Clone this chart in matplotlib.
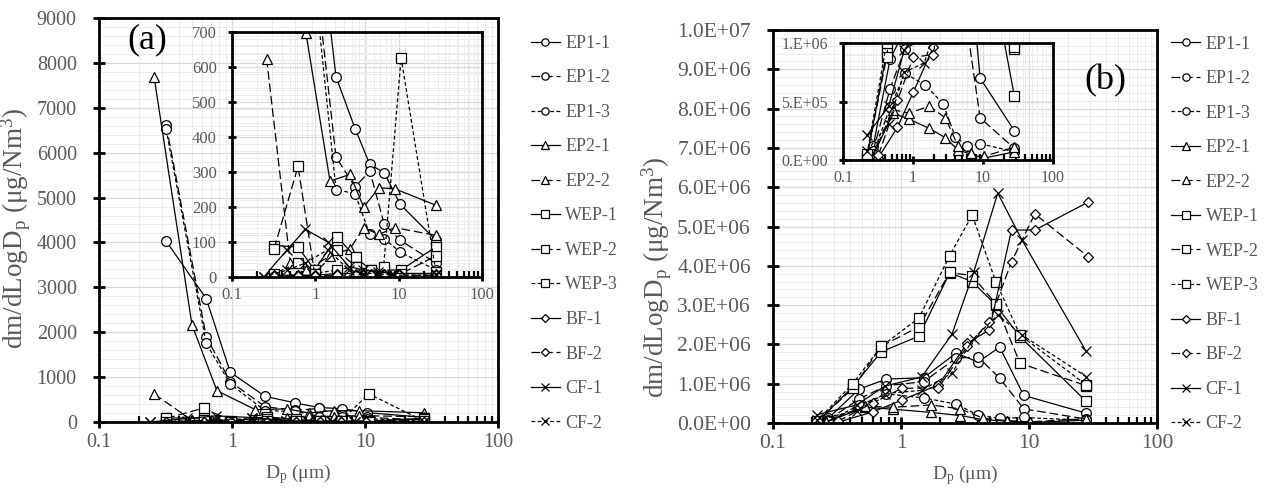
import numpy as np
import matplotlib
matplotlib.use("Agg")
import matplotlib.pyplot as plt
from matplotlib.ticker import LogLocator, FixedLocator, MultipleLocator, FuncFormatter, NullFormatter

plt.rcParams["font.family"] = ["Liberation Serif", "DejaVu Serif"]
plt.rcParams["mathtext.fontset"] = "custom"
plt.rcParams["mathtext.rm"] = "Liberation Serif"
plt.rcParams["mathtext.it"] = "Liberation Serif:italic"

GRAY = "#595959"
labels = ["EP1-1", "EP1-2", "EP1-3", "EP2-1", "EP2-2", "WEP-1", "WEP-2", "WEP-3",
          "BF-1", "BF-2", "CF-1", "CF-2"]

# ---- panel (a): particle diameters (um) per group
xa_ep1 = [0.32, 0.64, 0.97, 1.77, 3.0, 4.5, 6.7, 10.4, 28]
xa_ep2 = [0.26, 0.50, 0.77, 1.5, 2.6, 3.8, 5.8, 9.0, 28]
xa_wep = [0.32, 0.62, 0.98, 1.82, 3.05, 4.6, 6.6, 10.7, 28]
xa_bf = [0.32, 0.62, 0.98, 1.82, 3.05, 4.6, 6.6, 10.2, 28]
xa_cf = [0.24, 0.46, 0.76, 1.41, 2.53, 3.76, 5.6, 8.4, 28]

# panel (a) values, ug/Nm3
a_ep1_1 = [4027, 2750, 1110, 572, 424, 322, 298, 208, 105]
a_ep1_2 = [6610, 1900, 900, 343, 257, 303, 152, 105, 40]
a_ep1_3 = [6520, 1750, 850, 250, 238, 122, 110, 71, 20]
a_ep2_1 = [7675, 2166, 698, 274, 293, 200, 255, 252, 205]
a_ep2_2 = [624, 40, 20, 60, 80, 140, 122, 141, 119]
a_wep_1 = [90, 86, 20, 114, 57, 20, 20, 20, 86]
a_wep_2 = [80, 316, 10, 76, 30, 10, 10, 10, 60]
a_wep_3 = [10, 40, 10, 20, 30, 20, 30, 626, 15]
a_bf_1 = [5, 5, 5, 10, 10, 10, 10, 10, 10]
a_bf_2 = [3, 3, 3, 5, 5, 5, 5, 5, 5]
a_cf_1 = [0, 78, 136, 100, 30, 20, 15, 10, 10]
a_cf_2 = [0, 20, 40, 78, 20, 10, 10, 5, 5]

# ---- panel (b)
xb_ep1 = [0.27, 0.47, 0.77, 1.5, 2.7, 4.0, 5.9, 9.1, 28]
xb_ep2 = [0.26, 0.52, 0.87, 1.71, 2.9, 4.4, 6.7, 10.2, 28]
xb_wep = [0.22, 0.42, 0.70, 1.38, 2.4, 3.6, 5.5, 8.5, 28]
xb_bf = [0.32, 0.60, 1.01, 1.96, 3.3, 4.9, 7.3, 11.1, 29]
xb_cf = [0.22, 0.45, 0.75, 1.45, 2.5, 3.7, 5.7, 8.8, 28]

b_ep1_1 = [0.12e6, 0.86e6, 1.12e6, 1.15e6, 1.78e6, 1.55e6, 1.93e6, 0.70e6, 0.25e6]
b_ep1_2 = [0.08e6, 0.61e6, 0.95e6, 1.05e6, 1.65e6, 1.68e6, 1.14e6, 0.36e6, 0.10e6]
b_ep1_3 = [0.05e6, 0.45e6, 0.74e6, 0.64e6, 0.48e6, 0.20e6, 0.12e6, 0.14e6, 0.07e6]
b_ep2_1 = [0.02e6, 0.40e6, 0.35e6, 0.27e6, 0.19e6, 0.085e6, 0.05e6, 0.015e6, 0.07e6]
b_ep2_2 = [0.03e6, 0.43e6, 0.40e6, 0.46e6, 0.36e6, 0.12e6, 0.06e6, 0.03e6, 0.11e6]
b_wep_1 = [0.02e6, 0.92e6, 1.81e6, 2.21e6, 3.82e6, 3.60e6, 3.00e6, 2.20e6, 0.55e6]
b_wep_2 = [0.03e6, 0.88e6, 1.95e6, 2.45e6, 3.83e6, 3.75e6, 3.03e6, 1.52e6, 0.95e6]
b_wep_3 = [0.05e6, 1.00e6, 1.95e6, 2.67e6, 4.26e6, 5.29e6, 3.60e6, 2.24e6, 0.97e6]
b_bf_1 = [0.02e6, 0.28e6, 0.58e6, 0.97e6, 2.03e6, 2.37e6, 4.91e6, 4.91e6, 5.62e6]
b_bf_2 = [0.04e6, 0.51e6, 0.88e6, 0.90e6, 1.95e6, 2.58e6, 4.10e6, 5.32e6, 4.23e6]
b_cf_1 = [0.21e6, 0.46e6, 0.94e6, 1.17e6, 2.26e6, 3.84e6, 5.85e6, 4.66e6, 1.82e6]
b_cf_2 = [0.08e6, 0.31e6, 0.75e6, 0.83e6, 1.27e6, 2.15e6, 2.75e6, 2.24e6, 1.18e6]

markers = ["o", "o", "o", "^", "^", "s", "s", "s", "D", "D", "x", "x"]
styles = ["-", (0, (7, 3)), (0, (3, 2)), "-", (0, (7, 3)), "-", (0, (7, 3)), (0, (3, 2)),
          "-", (0, (7, 3)), "-", (0, (3, 2))]

series_a = [(xa_ep1, a_ep1_1), (xa_ep1, a_ep1_2), (xa_ep1, a_ep1_3),
            (xa_ep2, a_ep2_1), (xa_ep2, a_ep2_2),
            (xa_wep, a_wep_1), (xa_wep, a_wep_2), (xa_wep, a_wep_3),
            (xa_bf, a_bf_1), (xa_bf, a_bf_2), (xa_cf, a_cf_1), (xa_cf, a_cf_2)]
series_b = [(xb_ep1, b_ep1_1), (xb_ep1, b_ep1_2), (xb_ep1, b_ep1_3),
            (xb_ep2, b_ep2_1), (xb_ep2, b_ep2_2),
            (xb_wep, b_wep_1), (xb_wep, b_wep_2), (xb_wep, b_wep_3),
            (xb_bf, b_bf_1), (xb_bf, b_bf_2), (xb_cf, b_cf_1), (xb_cf, b_cf_2)]

YLABEL = r"dm/dLogD$_\mathregular{p}$ (μg/Nm$^\mathregular{3}$)"
XLABEL = r"D$_\mathregular{p}$ (μm)"


def draw(ax, series, ms):
    lines = []
    for (x, y), m, ls, lab in zip(series, markers, styles, labels):
        size = ms * (0.8 if m == "D" else 1.0)
        l, = ax.plot(x, y, ls=ls, lw=0.9, color="black", marker=m, ms=size,
                     mfc="white" if m != "x" else "black", mec="black", mew=0.9,
                     label=lab, clip_on=True)
        lines.append(l)
    return lines


def style_axes(ax, tick_size, lw, ypad):
    ax.set_xscale("log")
    ax.set_xlim(0.1, 100)
    ax.xaxis.set_major_locator(FixedLocator([0.1, 1, 10, 100]))
    ax.xaxis.set_major_formatter(FuncFormatter(lambda v, p: "%g" % v))
    ax.xaxis.set_minor_locator(LogLocator(base=10, subs=np.arange(2, 10)))
    ax.xaxis.set_minor_formatter(NullFormatter())
    ax.grid(True, which="major", color="#d9d9d9", lw=0.9)
    ax.grid(True, which="minor", color="#ececec", lw=0.7)
    ax.set_axisbelow(True)
    for s in ax.spines.values():
        s.set_linewidth(lw)
    ax.tick_params(axis="both", which="major", direction="inout", length=8, width=lw,
                   labelsize=tick_size, labelcolor=GRAY, pad=4)
    ax.tick_params(axis="y", which="major", pad=ypad)
    ax.tick_params(axis="x", which="minor", direction="in", length=4, width=lw * 0.8)
    ax.tick_params(axis="y", which="minor", length=0)


fig = plt.figure(figsize=(12.86, 4.97), dpi=100)

# ---------- panel (a)
axa = fig.add_axes([99 / 1286, 75 / 497, 399 / 1286, 404 / 497])
style_axes(axa, 14.5, 2.0, 12)
axa.set_ylim(0, 9000)
axa.yaxis.set_major_locator(MultipleLocator(1000))
axa.yaxis.set_minor_locator(MultipleLocator(200))
lines_a = draw(axa, series_a, 7)
axa.set_xlabel(XLABEL, fontsize=14, color=GRAY, labelpad=7)
axa.set_ylabel(YLABEL, fontsize=19.5, color=GRAY)
axa.yaxis.set_label_coords(-0.165, 0.48)
axa.text(0.07, 0.925, "(a)", transform=axa.transAxes, fontsize=26, color="black")

ia = fig.add_axes([232 / 1286, 220 / 497, 250 / 1286, 245 / 497])
ia.patch.set_alpha(0.0)
style_axes(ia, 12, 2.0, 8)
ia.set_ylim(0, 700)
ia.yaxis.set_major_locator(MultipleLocator(100))
ia.yaxis.set_minor_locator(MultipleLocator(20))
ia.tick_params(axis="both", which="major", length=6)
draw(ia, series_a, 7)

axa.legend(handles=lines_a, loc="upper left", bbox_to_anchor=(1.055, 0.985), frameon=False,
           fontsize=13, labelcolor=GRAY, handlelength=1.6, handletextpad=0.3,
           labelspacing=0.97, borderaxespad=0.2, markerscale=0.75)

# ---------- panel (b)
axb = fig.add_axes([773 / 1286, 74 / 497, 384 / 1286, 393 / 497])
style_axes(axb, 15.5, 2.0, 12)
axb.set_ylim(0, 1.0e7)
axb.yaxis.set_major_locator(MultipleLocator(1.0e6))
axb.yaxis.set_minor_locator(MultipleLocator(2.0e5))
axb.yaxis.set_major_formatter(FuncFormatter(lambda v, p: "%.1E" % v))
lines_b = draw(axb, series_b, 7)
axb.set_xlabel(XLABEL, fontsize=14, color=GRAY, labelpad=7)
axb.set_ylabel(YLABEL, fontsize=19.5, color=GRAY)
axb.yaxis.set_label_coords(-0.258, 0.37)
axb.text(0.81, 0.85, "(b)", transform=axb.transAxes, fontsize=26, color="black")

ib = fig.add_axes([843 / 1286, 337 / 497, 210 / 1286, 117 / 497])
ib.patch.set_alpha(0.0)
style_axes(ib, 11.5, 2.0, 8)
ib.set_ylim(0, 1.0e6)
ib.yaxis.set_major_locator(MultipleLocator(5.0e5))
ib.yaxis.set_minor_locator(MultipleLocator(1.0e5))
ib.yaxis.set_major_formatter(FuncFormatter(lambda v, p: ("%.0E" % v).replace("E", ".E")))
ib.tick_params(axis="both", which="major", length=6)
draw(ib, series_b, 7)

axb.legend(handles=lines_b, loc="upper left", bbox_to_anchor=(1.009, 1.013), frameon=False,
           fontsize=13, labelcolor=GRAY, handlelength=1.6, handletextpad=0.3,
           labelspacing=0.97, borderaxespad=0.2, markerscale=0.75)

fig.savefig("out.png", dpi=100)
